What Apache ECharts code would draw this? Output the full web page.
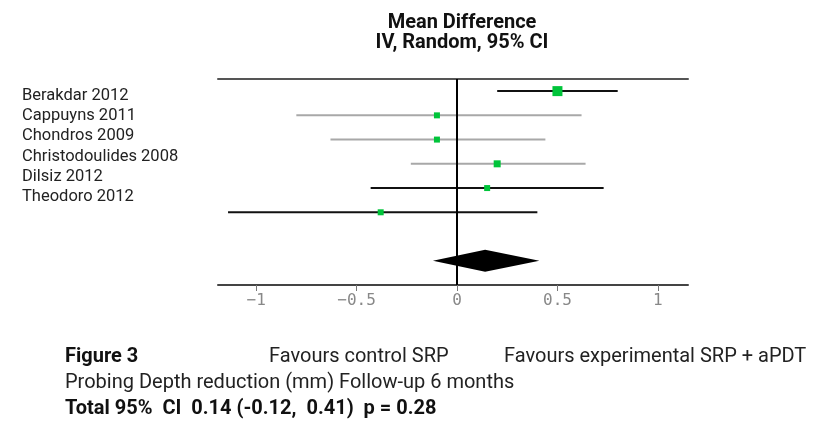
<!DOCTYPE html>
<html>
<head>
<meta charset="utf-8">
<script src="https://cdn.jsdelivr.net/npm/echarts@6/dist/echarts.min.js"></script>
<style>
  html, body { margin: 0; padding: 0; background: #fff; }
  #chart { width: 813px; height: 435px; }
</style>
</head>
<body>
<div id="chart"></div>
<script>
// study rows (top to bottom)
const studies = ['Berakdar 2012', 'Cappuyns 2011', 'Chondros 2009', 'Christodoulides 2008', 'Dilsiz 2012', 'Theodoro 2012']
const meanDiff = [0.50, -0.10, -0.10, 0.20, 0.15, -0.38]
const ciLow = [0.20, -0.80, -0.63, -0.23, -0.43, -1.14]
const ciHigh = [0.80, 0.62, 0.44, 0.64, 0.73, 0.40]
// 1 = dark line, 0 = grey line
const darkLine = [1, 0, 0, 0, 1, 1]
const weightSize = [10, 6, 6, 7, 6, 6]

const totalEst = 0.14
const totalLow = -0.12
const totalHigh = 0.41
const totalRow = 7

const tickValues = [-1, -0.5, 0, 0.5, 1]

const chart = echarts.init(document.getElementById('chart'))

const studyData = studies.map((s, i) => [i, ciLow[i], ciHigh[i], meanDiff[i], darkLine[i], weightSize[i]])

const labelFont = 'Roboto, "Liberation Sans", sans-serif'

const option = {
  animation: false,
  title: {
    text: 'Mean Difference\nIV, Random, 95% CI',
    left: 462,
    top: 13,
    padding: 0,
    textAlign: 'center',
    textStyle: { fontFamily: labelFont, fontSize: 20, fontWeight: 'bold', color: '#111', lineHeight: 20 }
  },
  grid: { left: 218, right: 125, top: 79, bottom: 150 },
  xAxis: [
    {
      type: 'value',
      min: -1.19,
      max: 1.15,
      position: 'bottom',
      splitLine: { show: false },
      axisLine: { onZero: false, lineStyle: { color: '#444', width: 2 } },
      axisTick: { customValues: tickValues, length: 6, lineStyle: { color: '#777', width: 1 } },
      axisLabel: {
        customValues: tickValues,
        margin: 8,
        color: '#888',
        fontFamily: '"DejaVu Sans Mono", monospace',
        fontSize: 16,
        formatter: v => String(v).replace('-', '\u2212')
      }
    },
    {
      type: 'value',
      min: -1.19,
      max: 1.15,
      position: 'top',
      splitLine: { show: false },
      axisLine: { onZero: false, lineStyle: { color: '#555', width: 2 } },
      axisTick: { show: false },
      axisLabel: { show: false }
    }
  ],
  yAxis: {
    type: 'value',
    min: -0.5,
    max: 8,
    inverse: true,
    show: false
  },
  series: [
    {
      type: 'custom',
      name: 'studies',
      data: studyData,
      renderItem: (params, api) => {
        const row = api.value(0)
        const lo = api.coord([api.value(1), row])
        const hi = api.coord([api.value(2), row])
        const pt = api.coord([api.value(3), row])
        const size = api.value(5)
        return {
          type: 'group',
          children: [
            {
              type: 'line',
              shape: { x1: lo[0], y1: lo[1], x2: hi[0], y2: hi[1] },
              style: { stroke: api.value(4) ? '#111' : '#a8a8a8', lineWidth: 2 }
            },
            {
              type: 'rect',
              shape: { x: pt[0] - size / 2, y: pt[1] - size / 2, width: size, height: size },
              style: { fill: '#00c43a' }
            }
          ]
        }
      },
      markLine: {
        silent: true,
        symbol: 'none',
        label: { show: false },
        lineStyle: { color: '#000', width: 2, type: 'solid' },
        data: [{ xAxis: 0 }]
      },
      z: 3
    },
    {
      type: 'custom',
      name: 'total',
      data: [[totalRow, totalLow, totalHigh, totalEst]],
      renderItem: (params, api) => {
        const row = api.value(0)
        const lo = api.coord([api.value(1), row])
        const hi = api.coord([api.value(2), row])
        const mid = api.coord([api.value(3), row])
        const h = 11
        return {
          type: 'polygon',
          shape: { points: [[lo[0], lo[1]], [mid[0], mid[1] - h], [hi[0], hi[1]], [mid[0], mid[1] + h]] },
          style: { fill: '#000' }
        }
      },
      z: 4
    }
  ],
  graphic: [
    ...studies.map((s, i) => ({
      type: 'text',
      left: 22,
      top: 87 + i * 20.3,
      style: { text: s, fontFamily: labelFont, fontSize: 16.5, fill: '#222' }
    })),
    {
      type: 'text', left: 65, top: 347,
      style: { text: 'Figure 3', fontFamily: labelFont, fontSize: 20, fontWeight: 'bold', fill: '#111' }
    },
    {
      type: 'text', left: 269, top: 347,
      style: { text: 'Favours control SRP', fontFamily: labelFont, fontSize: 20, fill: '#222' }
    },
    {
      type: 'text', left: 504, top: 347,
      style: { text: 'Favours experimental SRP + aPDT', fontFamily: labelFont, fontSize: 20, fill: '#222' }
    },
    {
      type: 'text', left: 65, top: 373,
      style: { text: 'Probing Depth reduction (mm) Follow-up 6 months', fontFamily: labelFont, fontSize: 20, fill: '#222' }
    },
    {
      type: 'text', left: 65, top: 399,
      style: { text: 'Total 95%  CI  0.14 (-0.12,  0.41)  p = 0.28', fontFamily: labelFont, fontSize: 20, fontWeight: 'bold', fill: '#111' }
    }
  ]
}

chart.setOption(option)
</script>
</body>
</html>
